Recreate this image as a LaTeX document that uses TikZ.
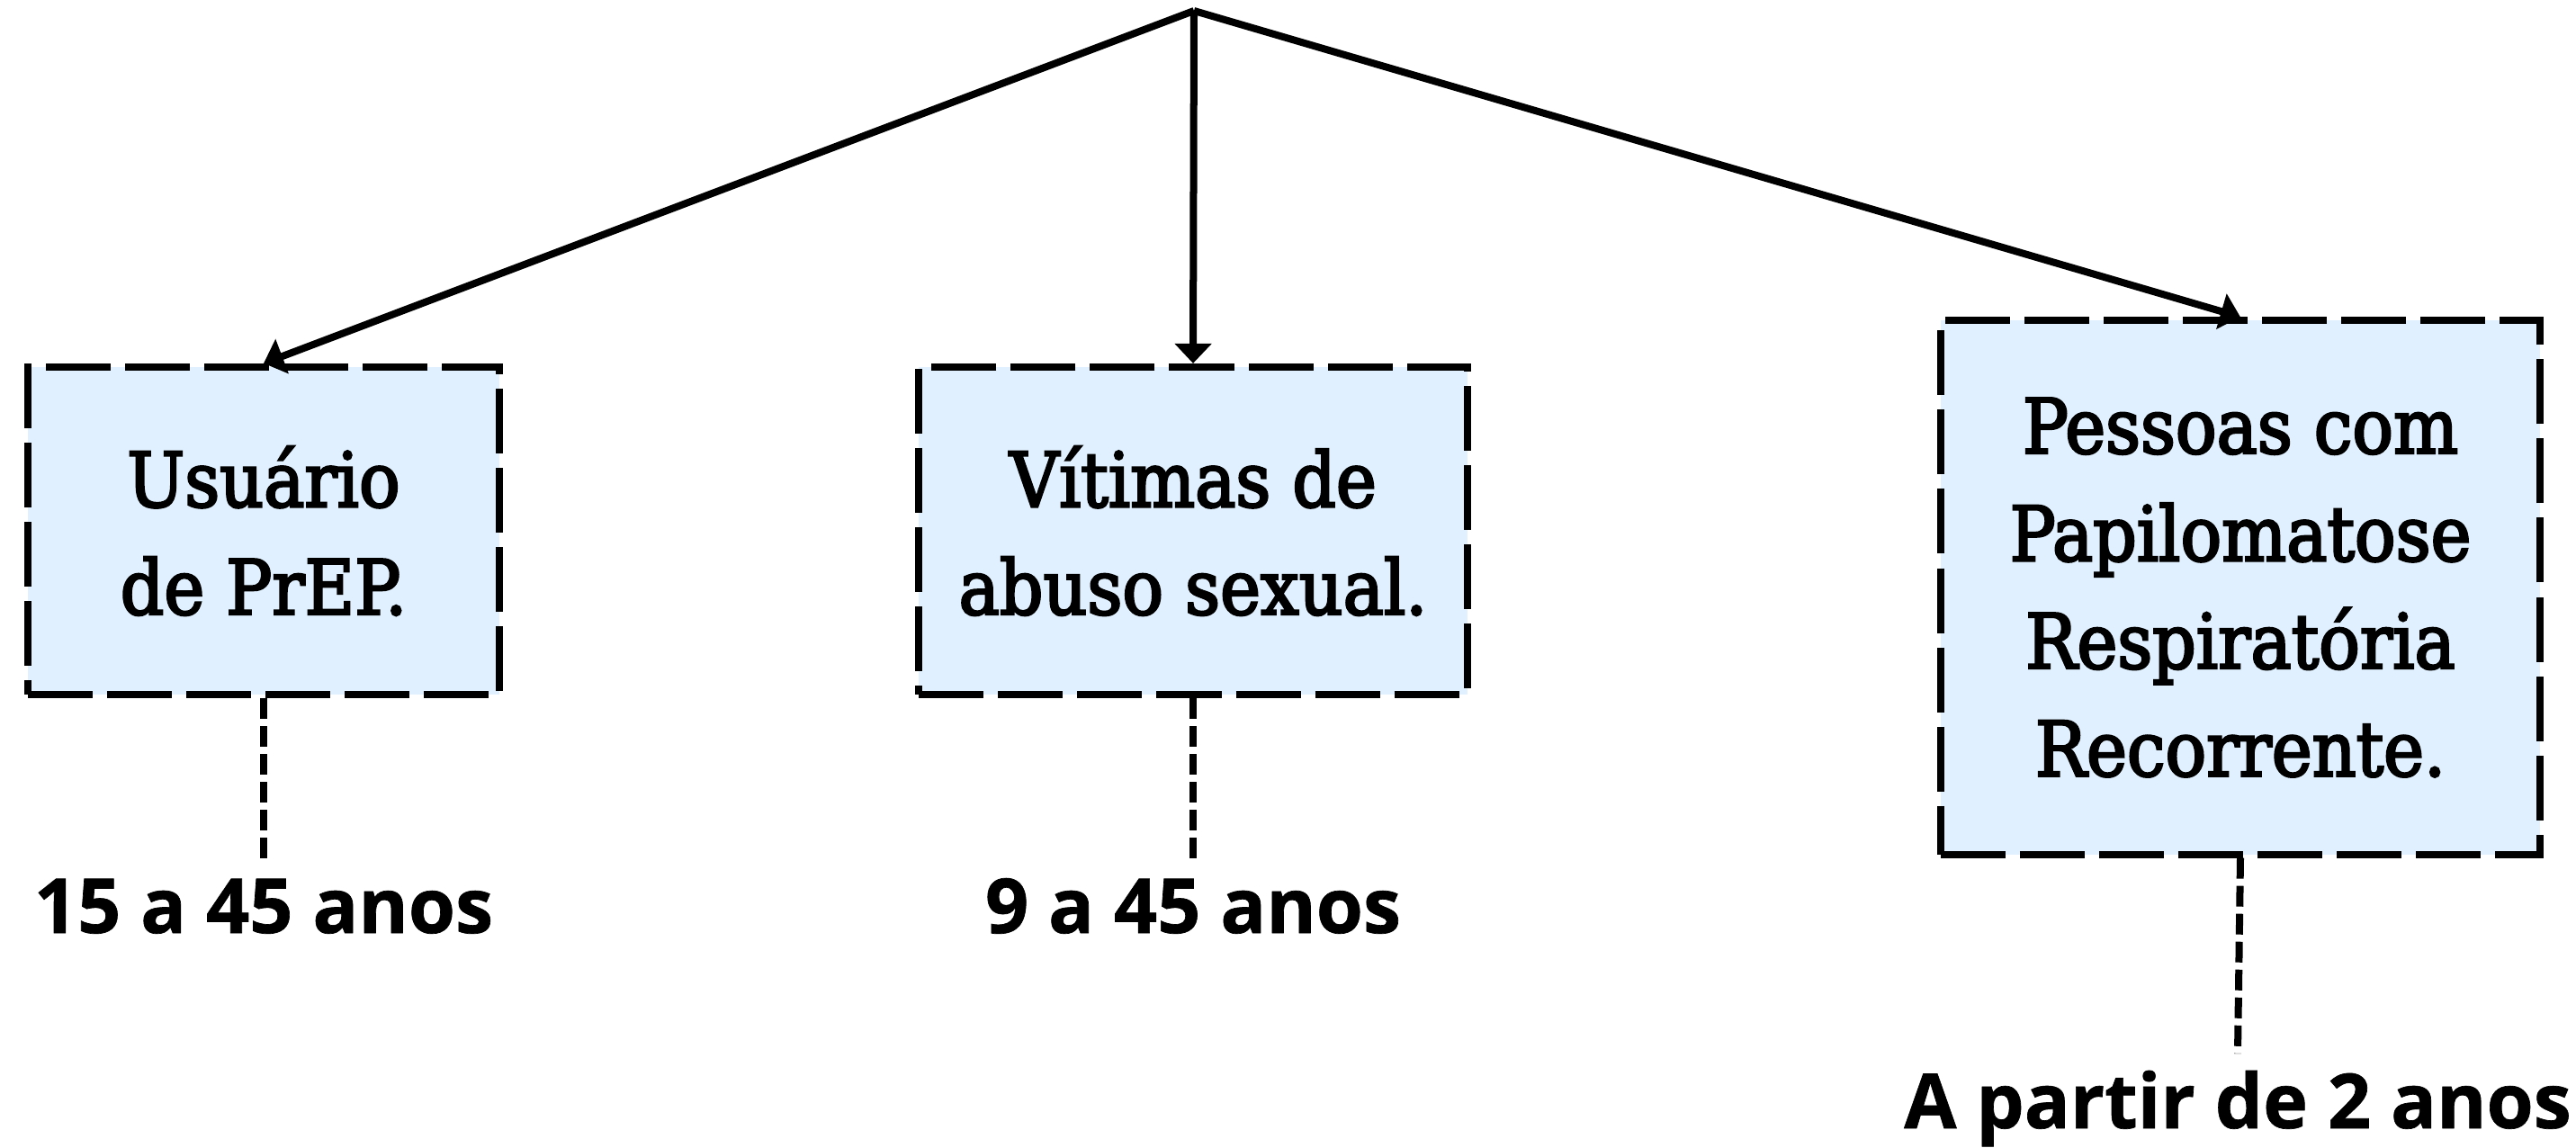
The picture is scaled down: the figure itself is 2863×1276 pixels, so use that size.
\documentclass[tikz,border=0pt]{standalone}
\usepackage{fontspec}
\setmainfont{DejaVu Serif Condensed}
\newfontfamily\boxfont{DejaVu Serif Condensed}[FakeBold=3]
\newfontfamily\agefont{Open Sans Bold}[FakeBold=0.8]
\usepackage{tikz}
\usetikzlibrary{arrows.meta}
\usetikzlibrary{positioning}
\definecolor{lblue}{RGB}{224,240,254}
\tikzset{dbox/.style = {draw, fill=lblue, line width=0.08cm, dash pattern=on 0.72cm off 0.16cm,
    align=center, inner sep=0, font=\boxfont\fontsize{24}{34}\selectfont}}
\tikzset{age/.style = {inner sep=0.18cm, font=\agefont\fontsize{24}{28}\selectfont}}
\tikzset{tie/.style = {line width=0.08cm, dash pattern=on 0.23cm off 0.08cm}}
\tikzset{arr/.style = {line width=0.08cm, -{Triangle[length=0.22cm, width=0.4cm]}}}

\begin{document}
\begin{tikzpicture}[x=0.01cm, y=-0.01cm]
      \useasboundingbox (0, 0) rectangle (2863, 1276);

      \coordinate (top) at (1327, 12);

      \node [dbox, minimum width=5.24cm, minimum height=3.64cm] (prep) at (293, 590) {Usuário\\de PrEP.};
      \node [dbox, minimum width=6.09cm, minimum height=3.64cm] (abuso) at (1326, 590) {Vítimas de\\abuso sexual.};
      \node [dbox, minimum width=6.66cm, minimum height=5.93cm] (papilo) at (2490, 653) {Pessoas com\\Papilomatose\\Respiratória\\Recorrente.};

      \node [age, anchor=base] (prepage) at (293, 1037) {15 a 45 anos};
      \node [age, anchor=base] (abusoage) at (1326, 1037) {9 a 45 anos};
      \node [age, anchor=base] (papiloage) at (2487, 1254) {A partir de 2 anos};

      \draw [arr] (top) -- (prep.north);
      \draw [arr] (top) -- (abuso.north);
      \draw [arr] (top) -- (papilo.north);

      \draw [tie] (prep.south) -- (prepage.north);
      \draw [tie] (abuso.south) -- (abusoage.north);
      \draw [tie] (papilo.south) -- (papiloage.north);
    \end{tikzpicture}
\end{document}
